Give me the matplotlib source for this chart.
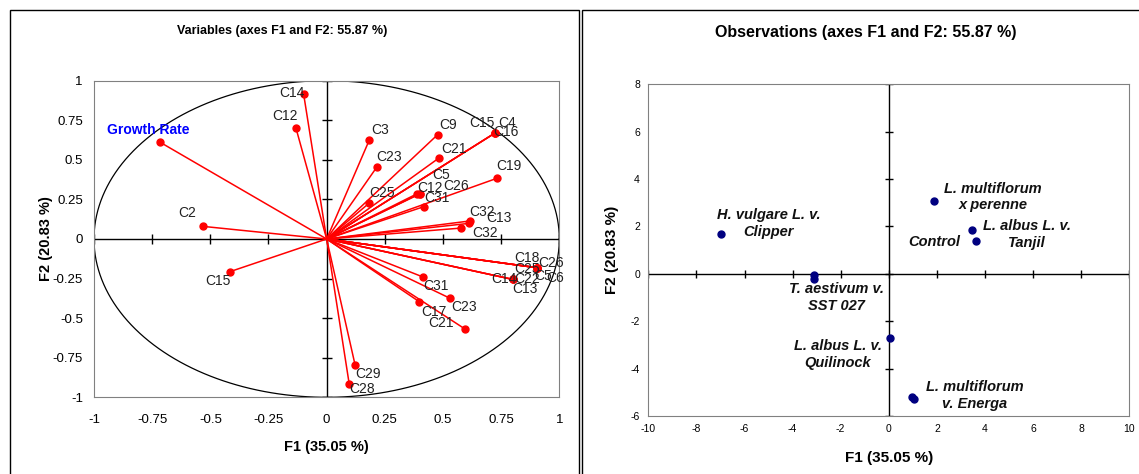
import numpy as np
import matplotlib.pyplot as plt
from matplotlib.patches import Rectangle

plt.rcParams['font.family'] = ['Liberation Sans', 'DejaVu Sans']

# correlation circle (variables)
var_names = ["Growth Rate", "C14", "C12", "C2", "C15", "C3", "C9", "C15", "C4", "C16",
             "C21", "C23", "C19", "C5", "C12", "C26", "C25", "C31", "C32", "C13", "C32",
             "C18", "C26", "C25", "C5", "C6", "C14", "C22", "C13", "C31", "C23", "C17",
             "C21", "C29", "C28"]
var_f1 = [-0.718, -0.099, -0.132, -0.533, -0.417, 0.183, 0.477, 0.722, 0.722, 0.722,
          0.483, 0.215, 0.731, 0.401, 0.389, 0.401, 0.183, 0.417, 0.616, 0.613, 0.577,
          0.902, 0.902, 0.902, 0.902, 0.902, 0.799, 0.799, 0.799, 0.414, 0.531, 0.398,
          0.593, 0.122, 0.097]
var_f2 = [0.613, 0.916, 0.701, 0.080, -0.207, 0.624, 0.659, 0.668, 0.668, 0.668,
          0.512, 0.453, 0.383, 0.286, 0.286, 0.286, 0.227, 0.204, 0.114, 0.099, 0.069,
          -0.181, -0.181, -0.181, -0.181, -0.181, -0.255, -0.255, -0.255, -0.240, -0.375, -0.396,
          -0.567, -0.794, -0.916]

# observations
obs_names = ["H. vulgare L. v.\nClipper", "T. aestivum v.\nSST 027", "",
             "L. albus L. v.\nQuilinock", "L. multiflorum\nv. Energa", "",
             "L. multiflorum\nx perenne", "Control", "L. albus L. v.\nTanjil"]
obs_f1 = [-6.99, -3.12, -3.10, 0.04, 0.95, 1.06, 1.89, 3.45, 3.61]
obs_f2 = [1.69, -0.06, -0.20, -2.72, -5.21, -5.29, 3.07, 1.85, 1.38]

var_ticks = [-1, -0.75, -0.5, -0.25, 0, 0.25, 0.5, 0.75, 1]
obs_xticks = list(range(-10, 11, 2))
obs_yticks = list(range(-6, 9, 2))

# label offsets in pixels (left edge / vertical centre of text)
var_off = [(-53, 12), (-24, 1), (-24, 12), (-24, 13), (-24, -9), (2, 10), (2, 10), (-25, 10),
           (4, 10), (-1, 1), (2, 9), (0, 10), (0, 12), (12, 19), (0, 6), (23, 8), (0, 10),
           (1, 9), (-1, 8.5), (17, 5), (11, -4.5), (-22, 10), (2, 5), (-22, -1), (-2, -8),
           (10, -10), (-21, 0), (2, 0), (0, -10), (0, -9), (1, -9), (2, -10), (-36, 6),
           (0, -9), (0, -4.5)]
obs_off = [(48, 10), (23, -22.5), (0, 0), (-52, -16), (63, 2), (0, 0), (59, 4), (-37, -11.5), (51, 6.5)]

fig = plt.figure(figsize=(11.39, 4.74), dpi=100)

# chart area frames
fig.patches.append(Rectangle((10 / 1139, -0.01), 569 / 1139, 1 - 10 / 474 + 0.01,
                             transform=fig.transFigure, fill=False, ec='black', lw=1))
fig.patches.append(Rectangle((582 / 1139, -0.01), 560 / 1139, 1 - 10 / 474 + 0.01,
                             transform=fig.transFigure, fill=False, ec='black', lw=1))


def cross_axes(ax, xt, yt, size):
    ax.axhline(0, color='black', lw=1, zorder=1)
    ax.axvline(0, color='black', lw=1, zorder=1)
    ax.plot(xt, [0] * len(xt), ls='none', marker='|', ms=size, color='black', mew=1, zorder=1)
    ax.plot([0] * len(yt), yt, ls='none', marker='_', ms=size, color='black', mew=1, zorder=1)
    ax.tick_params(length=0)
    for s in ax.spines.values():
        s.set_color('#808080')


# ---- left: variables
ax1 = fig.add_axes([94 / 1139, 1 - 397.3 / 474, 465.3 / 1139, 316.6 / 474])
t = np.linspace(0, 2 * np.pi, 400)
ax1.plot(np.cos(t), np.sin(t), color='black', lw=0.9, zorder=2)
cross_axes(ax1, var_ticks, var_ticks, 7)
for name, x, y, off in zip(var_names, var_f1, var_f2, var_off):
    ax1.plot([0, x], [0, y], color='red', lw=1.1, zorder=3)
    ax1.plot(x, y, 'o', color='red', ms=5, zorder=4)
    if name == "Growth Rate":
        ax1.annotate(name, (x, y), xytext=off, textcoords='offset pixels', ha='left', va='center',
                     fontsize=10, color='#0000FF', fontweight='bold', zorder=5)
    else:
        ax1.annotate(name, (x, y), xytext=off, textcoords='offset pixels', ha='left', va='center',
                     fontsize=10, color='#222222', zorder=5)
ax1.set_xlim(-1, 1)
ax1.set_ylim(-1, 1)
ax1.set_xticks(var_ticks)
ax1.set_yticks(var_ticks)
ax1.set_xticklabels([f"{v:g}" for v in var_ticks], fontsize=9.5)
ax1.set_yticklabels([f"{v:g}" for v in var_ticks], fontsize=9.5)
ax1.tick_params(axis='x', pad=12)
ax1.tick_params(axis='y', pad=8)
ax1.set_xlabel("F1 (35.05 %)", fontsize=10.5, fontweight='bold', labelpad=10)
ax1.set_ylabel("F2 (20.83 %)", fontsize=10.5, fontweight='bold', labelpad=0)

# ---- right: observations
ax2 = fig.add_axes([648.3 / 1139, 1 - 416 / 474, 481 / 1139, 331.7 / 474])
cross_axes(ax2, obs_xticks, obs_yticks, 6)
ax2.plot(obs_f1, obs_f2, 'o', color='#000080', ms=5, zorder=4, ls='none')
for name, x, y, off in zip(obs_names, obs_f1, obs_f2, obs_off):
    if name:
        ax2.annotate(name, (x, y), xytext=off, textcoords='offset pixels', ha='center', va='center',
                     multialignment='center', fontsize=10.5, fontweight='bold', fontstyle='italic',
                     color='#111111', linespacing=1.25, zorder=5)
ax2.set_xlim(-10, 10)
ax2.set_ylim(-6, 8)
ax2.set_xticks(obs_xticks)
ax2.set_yticks(obs_yticks)
ax2.set_xticklabels([str(v) for v in obs_xticks], fontsize=7.5)
ax2.set_yticklabels([str(v) for v in obs_yticks], fontsize=7.5)
ax2.tick_params(axis='x', pad=6)
ax2.tick_params(axis='y', pad=6)
ax2.set_xlabel("F1 (35.05 %)", fontsize=11, fontweight='bold', labelpad=12)
ax2.set_ylabel("F2 (20.83 %)", fontsize=11, fontweight='bold', labelpad=8)

fig.text(282 / 1139, 1 - 31 / 474, "Variables (axes F1 and F2: 55.87 %)", ha='center', va='center',
         fontsize=9, fontweight='bold')
fig.text(866 / 1139, 1 - 32 / 474, "Observations (axes F1 and F2: 55.87 %)", ha='center', va='center',
         fontsize=11.5, fontweight='bold')

fig.savefig("out.png", dpi=100)
